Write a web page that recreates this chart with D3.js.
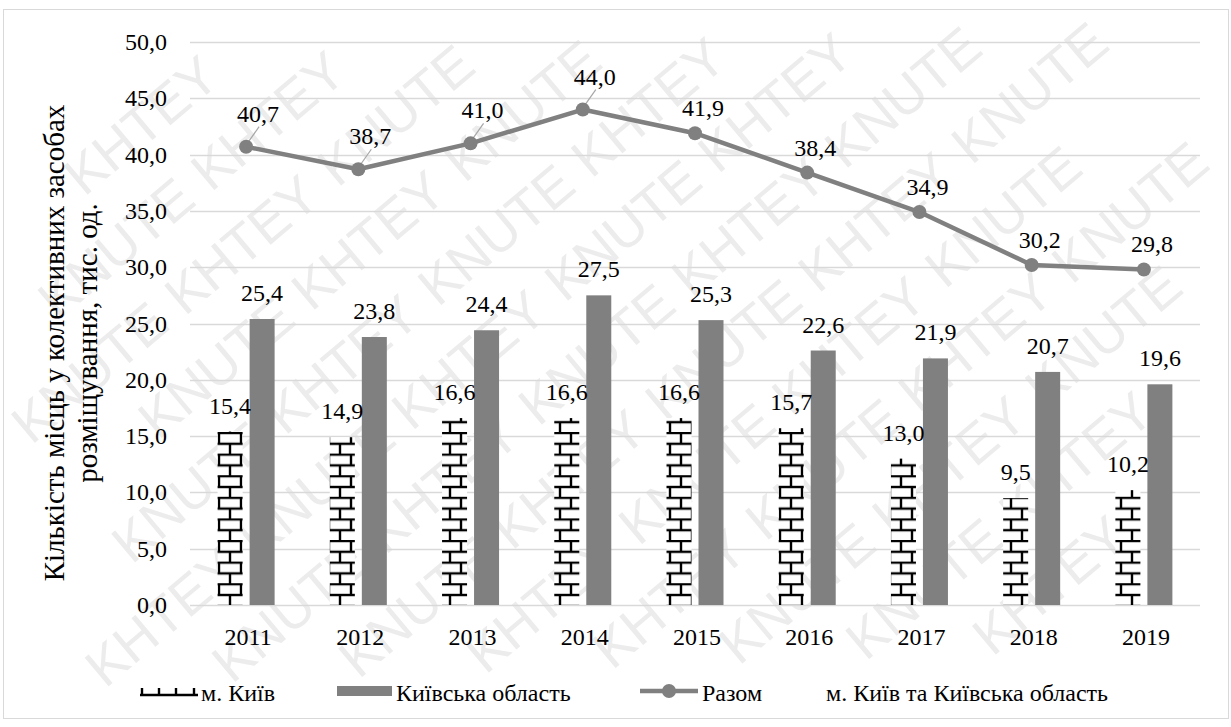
<!DOCTYPE html>
<html>
<head>
<meta charset="utf-8">
<script src="https://cdn.jsdelivr.net/npm/d3@7"></script>
<style>
  body { margin: 0; background: #fff; }
  svg { display: block; }
  text { font-family: "Liberation Serif", "Tinos", "DejaVu Serif", "Noto Serif", serif; fill: #000; }
  text.wm { font-family: "Liberation Sans", "DejaVu Sans", sans-serif; fill: #ececec; }
</style>
</head>
<body>
<svg id="chart"></svg>
<script>
const years = ["2011", "2012", "2013", "2014", "2015", "2016", "2017", "2018", "2019"];
const kyiv = [15.4, 14.9, 16.6, 16.6, 16.6, 15.7, 13.0, 9.5, 10.2];
const oblast = [25.4, 23.8, 24.4, 27.5, 25.3, 22.6, 21.9, 20.7, 19.6];
const total = [40.7, 38.7, 41.0, 44.0, 41.9, 38.4, 34.9, 30.2, 29.8];
const yTicks = [0, 5, 10, 15, 20, 25, 30, 35, 40, 45, 50];
const seriesNames = ["м. Київ", "Київська область", "Разом", "м. Київ та Київська область"];
const yTitle = ["Кількість місць у колективних засобах", "розміщування, тис. од."];
const leaderYears = ["2011", "2012", "2013", "2014"];
const watermarkWords = ["KHTEY", "KNUTE"];

const width = 1231, height = 727;
const margin = {top: 42, right: 31, bottom: 122, left: 190};
const grey = "#808080";
const numSize = 24;

const svg = d3.select("#chart")
    .attr("width", width)
    .attr("height", height);

const fmt = v => d3.format(".1f")(v).replace(".", ",");

const x = d3.scaleBand()
    .domain(years)
    .range([margin.left, width - margin.right]);

const xInner = d3.scaleBand()
    .domain(["kyiv", "oblast"])
    .range([-28.5, 28.5])
    .paddingInner(0.21875);

const y = d3.scaleLinear()
    .domain([0, 50])
    .range([height - margin.bottom, margin.top]);

const cx = d => x(d) + x.bandwidth() / 2;

// brick pattern for Kyiv bars
const defs = svg.append("defs");
const brick = defs.append("pattern")
    .attr("id", "brick")
    .attr("patternUnits", "userSpaceOnUse")
    .attr("width", 22)
    .attr("height", 21.6)
    .attr("x", 219)
    .attr("y", 0);
brick.append("rect").attr("width", 22).attr("height", 21.6).attr("fill", "#fff");
brick.append("g")
    .attr("stroke", "#000")
    .attr("stroke-width", 2.4)
    .selectAll("line")
    .data([[0, 1, 22, 1], [0, 11.8, 22, 11.8], [0, 1, 0, 11.8], [22, 1, 22, 11.8], [11, 11.8, 11, 22.6], [11, -9.8, 11, 1]])
    .join("line")
    .attr("x1", d => d[0]).attr("y1", d => d[1])
    .attr("x2", d => d[2]).attr("y2", d => d[3]);

// watermark: words along diagonal rows, only those fully on the page
const wmSize = 54, wmAngle = -40;
const rad = wmAngle * Math.PI / 180, c = Math.cos(rad), s = Math.sin(rad);
const wordW = 184, wordH = 40, step = 200, rowGap = 78;
const wmWords = [];
for (let r = -14; r <= 14; r++) {
    for (let k = -14; k <= 14; k++) {
        const u = k * step + (Math.abs(r) % 2) * step / 2 - 300;
        const v = r * rowGap;
        const x0 = 615 + u * c - v * s;
        const y0 = 363 + u * s + v * c;
        const corners = [[0, 0], [wordW, 0], [0, -wordH], [wordW, -wordH]]
            .map(([a, b]) => [x0 + a * c - b * s, y0 + a * s + b * c]);
        if (corners.every(([px, py]) => px >= 1 && px <= width - 1 && py >= 1 && py <= height - 1)) {
            wmWords.push({x: x0, y: y0, t: watermarkWords[Math.abs(k) % 2]});
        }
    }
}
svg.append("g")
    .selectAll("text")
    .data(wmWords)
    .join("text")
    .attr("class", "wm")
    .attr("font-size", wmSize)
    .attr("transform", d => `translate(${d.x},${d.y}) rotate(${wmAngle})`)
    .text(d => d.t);

// chart border
svg.append("rect")
    .attr("x", 3.5).attr("y", 9.5)
    .attr("width", width - 6).attr("height", height - 18)
    .attr("fill", "none")
    .attr("stroke", "#d9d9d9");

// gridlines
svg.append("g")
    .selectAll("line")
    .data(yTicks)
    .join("line")
    .attr("x1", margin.left)
    .attr("x2", width - margin.right)
    .attr("y1", d => Math.round(y(d)) + 0.5)
    .attr("y2", d => Math.round(y(d)) + 0.5)
    .attr("stroke", "#d9d9d9")
    .attr("stroke-width", 1.3);

// y tick labels
svg.append("g")
    .selectAll("text")
    .data(yTicks)
    .join("text")
    .attr("x", 167)
    .attr("y", d => y(d) + 8)
    .attr("text-anchor", "end")
    .attr("font-size", numSize)
    .text(d => fmt(d));

// x tick labels
svg.append("g")
    .selectAll("text")
    .data(years)
    .join("text")
    .attr("x", d => cx(d) + 2)
    .attr("y", 645)
    .attr("text-anchor", "middle")
    .attr("font-size", numSize)
    .text(d => d);

// y title
svg.append("g")
    .attr("transform", "translate(0,343) rotate(-90)")
    .selectAll("text")
    .data(yTitle)
    .join("text")
    .attr("x", 0)
    .attr("y", (d, i) => 64 + i * 33)
    .attr("text-anchor", "middle")
    .attr("font-size", 29)
    .text(d => d);

// bars
const bars = svg.append("g");
bars.selectAll(".kyiv")
    .data(years)
    .join("rect")
    .attr("class", "kyiv")
    .attr("x", d => cx(d) + xInner("kyiv"))
    .attr("width", xInner.bandwidth())
    .attr("y", (d, i) => y(kyiv[i]))
    .attr("height", (d, i) => y(0) - y(kyiv[i]))
    .attr("fill", "url(#brick)");

bars.selectAll(".oblast")
    .data(years)
    .join("rect")
    .attr("class", "oblast")
    .attr("x", d => cx(d) + xInner("oblast"))
    .attr("width", xInner.bandwidth())
    .attr("y", (d, i) => y(oblast[i]))
    .attr("height", (d, i) => y(0) - y(oblast[i]))
    .attr("fill", grey);

// bar labels
const barLabels = svg.append("g");
barLabels.selectAll(".lk")
    .data(years)
    .join("text")
    .attr("class", "lk")
    .attr("font-size", numSize)
    .attr("text-anchor", "middle")
    .attr("x", d => cx(d) + xInner("kyiv") + xInner.bandwidth() / 2)
    .attr("y", (d, i) => y(kyiv[i]) - 18)
    .text((d, i) => fmt(kyiv[i]));
barLabels.selectAll(".lo")
    .data(years)
    .join("text")
    .attr("class", "lo")
    .attr("font-size", numSize)
    .attr("text-anchor", "middle")
    .attr("x", d => cx(d) + xInner("oblast") + xInner.bandwidth() / 2)
    .attr("y", (d, i) => y(oblast[i]) - 18)
    .text((d, i) => fmt(oblast[i]));

// total line
const line = d3.line()
    .x((d, i) => cx(years[i]))
    .y(d => y(d));

svg.append("path")
    .datum(total)
    .attr("d", line)
    .attr("fill", "none")
    .attr("stroke", grey)
    .attr("stroke-width", 4.5)
    .attr("stroke-linejoin", "round");

// leader lines
svg.append("g")
    .selectAll("line")
    .data(years.filter(d => leaderYears.includes(d)))
    .join("line")
    .attr("x1", d => cx(d) + 1)
    .attr("y1", d => y(total[years.indexOf(d)]) - 3)
    .attr("x2", d => cx(d) + 13)
    .attr("y2", d => y(total[years.indexOf(d)]) - 20)
    .attr("stroke", "#a6a6a6")
    .attr("stroke-width", 1.2);

svg.append("g")
    .selectAll("circle")
    .data(total)
    .join("circle")
    .attr("cx", (d, i) => cx(years[i]))
    .attr("cy", d => y(d))
    .attr("r", 7)
    .attr("fill", grey);

svg.append("g")
    .selectAll("text")
    .data(total)
    .join("text")
    .attr("font-size", numSize)
    .attr("text-anchor", "middle")
    .attr("x", (d, i) => cx(years[i]) + (leaderYears.includes(years[i]) ? 12 : 8))
    .attr("y", (d, i) => y(d) + (leaderYears.includes(years[i]) ? -25 : -17))
    .text(d => fmt(d));

// legend
const legend = svg.append("g");
const ly = 695;
const legSize = 24;

legend.append("line")
    .attr("x1", 140).attr("x2", 198)
    .attr("y1", ly).attr("y2", ly)
    .attr("stroke", "#000").attr("stroke-width", 2.4);
legend.selectAll(".tick")
    .data([142, 159, 176, 194])
    .join("line")
    .attr("class", "tick")
    .attr("x1", d => d).attr("x2", d => d)
    .attr("y1", ly - 7).attr("y2", ly)
    .attr("stroke", "#000").attr("stroke-width", 2.4);
legend.append("text").attr("font-size", legSize).attr("x", 201).attr("y", ly + 6).text(seriesNames[0]);

legend.append("rect")
    .attr("x", 337).attr("y", ly - 9)
    .attr("width", 55).attr("height", 10)
    .attr("fill", grey);
legend.append("text").attr("font-size", legSize).attr("x", 396).attr("y", ly + 6).text(seriesNames[1]);

legend.append("line")
    .attr("x1", 640).attr("x2", 698)
    .attr("y1", ly - 4).attr("y2", ly - 4)
    .attr("stroke", grey).attr("stroke-width", 4.5);
legend.append("circle")
    .attr("cx", 669).attr("cy", ly - 4).attr("r", 7)
    .attr("fill", grey);
legend.append("text").attr("font-size", legSize).attr("x", 702).attr("y", ly + 6).text(seriesNames[2]);

// fourth entry has no key
legend.append("text")
    .attr("font-size", legSize)
    .attr("x", 1108).attr("y", ly + 6)
    .attr("text-anchor", "end")
    .text(seriesNames[3]);
</script>
</body>
</html>
